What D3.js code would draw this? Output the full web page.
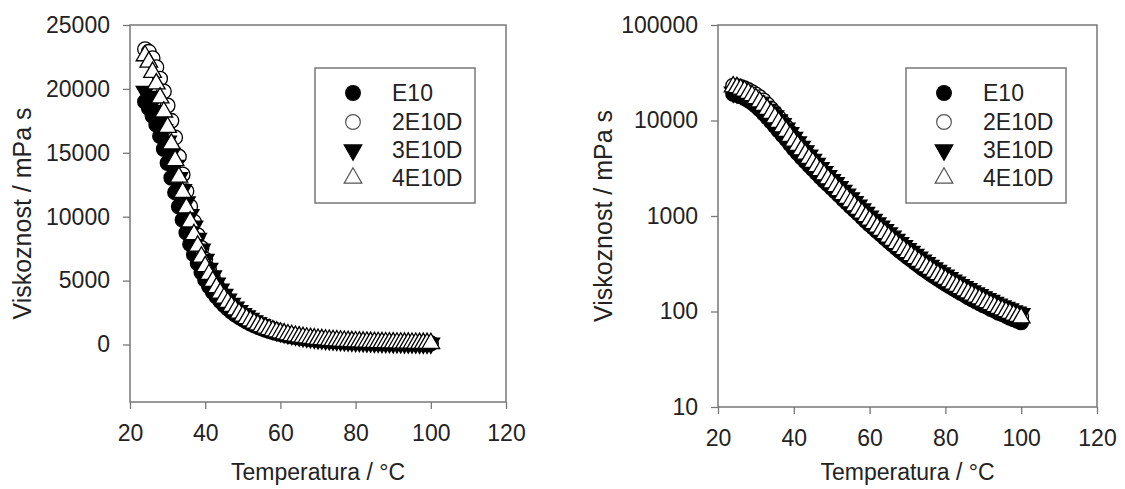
<!DOCTYPE html>
<html lang="en">
<head>
  <meta charset="UTF-8">
  <script src="https://d3js.org/d3.v7.min.js"></script>
  <title>Viskoznost</title>
  <style>
    body { margin: 0; background: #fff; }
    svg text { font-family: Arial, "Liberation Sans", sans-serif; fill: #222; }
  </style>
</head>
<body>
  <div id="chart"></div>
  <script>
    // temperatures (°C)
    const temperature = [24,25,26,27,28,29,30,31,32,33,34,35,36,37,38,39,40,41,42,43,44,45,46,47,48,49,50,
      51,52,53,54,55,56,57,58,59,60,61,62,63,64,65,66,67,68,69,70,71,72,73,74,75,76,77,78,79,80,
      81,82,83,84,85,86,87,88,89,90,91,92,93,94,95,96,97,98,99,100];

    // viscosity (mPa s) per sample
    const e10 = [19000,18500,17900,17200,16300,15300,14200,13050,11900,10800,9750,8750,7850,7050,6350,5650,5050,4550,4120,3740,3400,3090,2810,2560,2340,2140,1960,
      1797,1642,1495,1374,1257,1154,1058,968,887,815,751,690,637,588,543,501,464,430,400,372,347,323,302,282,265,248,233,220,207,195,
      185,175,166,157,149,141,134,128,122,116,112,106,102,97,94,90,86,83,80,77];
    const e2d = [23100,22900,22400,21700,20800,19800,18700,17500,16200,14700,13300,12000,10800,9600,8550,7550,6650,5900,5280,4740,4260,3840,3460,3120,2820,2560,2320,
      2111,1919,1739,1581,1447,1314,1199,1098,996,915,850,782,722,666,615,568,525,487,453,421,393,366,342,319,300,282,264,249,235,221,
      209,198,188,177,168,160,152,145,139,132,126,120,115,110,106,102,98,94,91,88];
    const e3d = [19800,19400,18900,18300,17600,16800,15900,14950,14000,13050,12100,11150,10150,9250,8300,7450,6650,5950,5350,4800,4330,3910,3540,3210,2910,2640,2400,
      2233,2030,1848,1689,1546,1410,1293,1184,1085,997,917,844,779,718,663,613,567,526,488,454,424,395,369,344,323,304,285,268,253,239,
      226,213,202,191,182,173,164,156,150,142,136,130,124,119,114,110,106,101,98,95];
    const e4d = [22600,22100,21300,20400,19300,18200,17000,15700,14400,13100,11900,10700,9600,8600,7700,6850,6095,5485,4940,4455,4025,3640,3295,2985,2705,2455,2230,
      2030,1845,1680,1535,1405,1282,1175,1076,986,906,834,767,708,653,603,557,515,478,444,413,385,359,335,313,294,276,259,244,230,217,
      205,194,184,174,165,157,149,142,136,129,124,118,113,108,104,100,96,92,89,86];

    const seriesNames = ['E10', '2E10D', '3E10D', '4E10D'];
    const seriesValues = [e10, e2d, e3d, e4d];

    const xTicks = [20, 40, 60, 80, 100, 120];
    const linearTicks = [0, 5000, 10000, 15000, 20000, 25000];
    const logTicks = [10, 100, 1000, 10000, 100000];

    // marker look per series
    const markers = [
      { type: d3.symbolCircle, size: 170, fill: '#000', rotate: 0 },
      { type: d3.symbolCircle, size: 170, fill: '#fff', rotate: 0 },
      { type: d3.symbolTriangle, size: 135, fill: '#000', rotate: 180 },
      { type: d3.symbolTriangle, size: 135, fill: '#fff', rotate: 0 }
    ];

    const svg = d3.select('#chart').append('svg')
      .attr('width', 1125)
      .attr('height', 489);

    function drawPanel(p) {
      const x = d3.scaleLinear().domain([20, 120]).range([p.left, p.right]);
      const y = p.y;
      const g = svg.append('g');

      // y axis
      g.append('g')
        .attr('transform', `translate(${p.left},0)`)
        .call(d3.axisLeft(y).tickValues(p.yTicks).tickFormat(d3.format('d')).tickSize(7).tickPadding(13).tickSizeOuter(0))
        .call(a => a.select('.domain').remove())
        .call(a => a.selectAll('line').attr('stroke', '#777').attr('stroke-width', 1.3))
        .call(a => a.selectAll('text').attr('font-size', 23).attr('fill', '#222'));

      // x axis
      g.append('g')
        .attr('transform', `translate(0,${p.bottom})`)
        .call(d3.axisBottom(x).tickValues(xTicks).tickSize(7).tickPadding(16).tickSizeOuter(0))
        .call(a => a.select('.domain').remove())
        .call(a => a.selectAll('line').attr('stroke', '#777').attr('stroke-width', 1.3))
        .call(a => a.selectAll('text').attr('font-size', 23).attr('fill', '#222'));

      // frame
      g.append('rect')
        .attr('x', p.left).attr('y', p.top)
        .attr('width', p.right - p.left).attr('height', p.bottom - p.top)
        .attr('fill', 'none').attr('stroke', '#777').attr('stroke-width', 1.5);

      // markers
      seriesValues.forEach((vals, i) => {
        const m = markers[i];
        const pts = temperature.map((t, k) => ({ t: t, v: vals[k] }));
        g.append('g').selectAll('path')
          .data(pts)
          .enter()
          .append('path')
          .attr('d', d3.symbol().type(m.type).size(m.size))
          .attr('transform', d => `translate(${x(d.t)},${y(d.v)}) rotate(${m.rotate})`)
          .attr('fill', m.fill)
          .attr('stroke', '#000')
          .attr('stroke-width', 1.3);
      });

      // axis titles
      g.append('text')
        .attr('x', (p.left + p.right) / 2)
        .attr('y', 480)
        .attr('text-anchor', 'middle')
        .attr('font-size', 23)
        .text('Temperatura / °C');

      g.append('text')
        .attr('transform', `translate(${p.titleX},${(p.top + p.bottom) / 2}) rotate(-90)`)
        .attr('text-anchor', 'middle')
        .attr('dy', '0.35em')
        .attr('font-size', 25)
        .text('Viskoznost / mPa s');

      // legend
      const lg = g.append('g').attr('transform', `translate(${p.legendX},68)`);
      lg.append('rect')
        .attr('width', 160).attr('height', 135)
        .attr('fill', '#fff').attr('stroke', '#777').attr('stroke-width', 1.5);
      const rows = [25, 54, 82, 110];
      seriesNames.forEach((name, i) => {
        const m = markers[i];
        lg.append('path')
          .attr('d', d3.symbol().type(m.type).size(m.size))
          .attr('transform', `translate(38,${rows[i]}) rotate(${m.rotate})`)
          .attr('fill', m.fill)
          .attr('stroke', i % 2 ? '#555' : '#000')
          .attr('stroke-width', 1.2);
        lg.append('text')
          .attr('x', 77).attr('y', rows[i])
          .attr('dy', '0.36em')
          .attr('font-size', 23)
          .text(name);
      });
    }

    drawPanel({
      left: 130, right: 506, top: 25, bottom: 402,
      y: d3.scaleLinear().domain([-4500, 25000]).range([402, 25]),
      yTicks: linearTicks, titleX: 22, legendX: 315
    });

    drawPanel({
      left: 718, right: 1097, top: 25, bottom: 407,
      y: d3.scaleLog().domain([10, 100000]).range([407, 25]),
      yTicks: logTicks, titleX: 603, legendX: 906
    });
  </script>
</body>
</html>
